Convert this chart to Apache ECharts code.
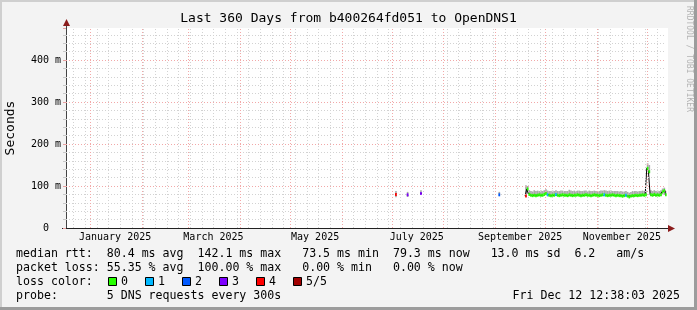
<!DOCTYPE html>
<html><head><meta charset="utf-8">
<script src="https://cdn.jsdelivr.net/npm/echarts@6/dist/echarts.min.js"></script>
<style>html,body{margin:0;padding:0;background:#f3f3f3}#c{width:697px;height:310px}</style>
</head><body><div id="c"></div>
<script>
// ---------- data ----------
const monthNames = ['January','February','March','April','May','June','July','August','September','October','November','December'];
const xLabelDays = ['2025-01-16','2025-03-16','2025-05-16','2025-07-16','2025-09-16','2025-11-16'];
const yTickValues = [0, 100, 200, 300, 400];
const lossColors = ['#26ff00','#00b8ff','#0059ff','#7e00ff','#ff0000','#a10000'];
const lossLabels = ['0','1','2','3','4','5/5'];

// isolated measurements
const sparseDays   = ['2025-07-03','2025-07-10','2025-07-18','2025-09-03'];
const sparseMedian = [80, 79, 82, 79];
const sparseLoss   = [4, 3, 3, 2];
const sparseLo     = [73, 74, 81, 79];
const sparseHi     = [88, 86, 90, 86];

// continuous run, one value per day starting at runStart
const runStart = '2025-09-19';
const runMedian = [
  76, 93, 80, 78, 77, 78, 77, 78, 79, 78, 78, 80,
  82, 79, 78, 77, 78, 78, 80, 78, 77, 78, 79, 78, 78, 77, 79, 78, 77, 78, 78, 79, 78, 77, 78, 78, 79, 78, 78, 77, 78, 79, 78,
  78, 77, 78, 79, 79, 78, 77, 78, 78, 79, 78, 77, 78, 77, 77, 76, 77, 78, 76, 74, 76, 77, 77, 78, 77, 78, 78, 79, 78, 79,
  142, 134, 79, 78, 80, 78, 79, 78, 79, 86, 89, 79
];
const runLoss = [
  4, 0, 0, 0, 0, 0, 0, 0, 0, 0, 0, 0,
  0, 1, 0, 0, 0, 0, 1, 0, 0, 0, 0, 0, 0, 0, 0, 0, 0, 0, 0, 0, 0, 0, 0, 0, 0, 0, 0, 0, 0, 0, 0,
  0, 0, 0, 0, 1, 0, 0, 0, 0, 0, 0, 0, 0, 0, 0, 0, 0, 1, 0, 0, 0, 0, 0, 0, 0, 0, 0, 0, 0, 0,
  0, 0, 0, 0, 0, 0, 0, 0, 0, 0, 0, 0
];
const runHi = [
  102, 100, 90, 88, 87, 90, 88, 89, 88, 89, 88, 90,
  92, 89, 88, 88, 89, 88, 90, 88, 88, 89, 89, 88, 88, 88, 91, 89, 88, 89, 88, 89, 89, 88, 88, 89, 89, 88, 89, 88, 88, 89, 88,
  88, 88, 89, 89, 90, 89, 88, 89, 89, 88, 88, 88, 88, 87, 88, 86, 87, 88, 86, 84, 86, 88, 88, 88, 87, 88, 88, 89, 88, 89,
  154, 150, 90, 88, 90, 88, 89, 88, 90, 94, 96, 88
];
const runLo = [
  74, 88, 77, 76, 75, 76, 75, 76, 76, 76, 76, 77,
  79, 76, 76, 75, 76, 76, 77, 76, 75, 76, 76, 76, 76, 75, 76, 76, 75, 76, 76, 76, 76, 75, 76, 76, 76, 76, 76, 75, 76, 76, 76,
  76, 75, 76, 76, 76, 76, 75, 76, 76, 76, 76, 75, 76, 75, 75, 74, 75, 76, 74, 72, 74, 75, 75, 76, 75, 76, 76, 76, 76, 76,
  138, 130, 76, 76, 77, 76, 76, 76, 76, 80, 84, 77
];

// ---------- build ----------
const DAY = 86400000;
function d(s){ const p = s.split('-').map(Number); return new Date(p[0], p[1]-1, p[2]).getTime(); }
const xMin = new Date(2024, 11, 17, 12, 38, 3).getTime();
const xMax = new Date(2025, 11, 12, 12, 38, 3).getTime();

const items = [];
sparseDays.forEach((s, i) => items.push([d(s), d(s)+DAY, sparseLo[i], sparseHi[i], sparseMedian[i], sparseLoss[i]]));
const r0 = new Date(d(runStart));
runMedian.forEach((m, i) => {
  const dt = new Date(r0.getFullYear(), r0.getMonth(), r0.getDate() + i).getTime();
  const end = Math.min(new Date(r0.getFullYear(), r0.getMonth(), r0.getDate() + i + 1).getTime(), xMax);
  items.push([dt, end, runLo[i], runHi[i], m, runLoss[i]]);
});
items.sort((a,b)=>a[0]-b[0]);

// black median step line, one series per contiguous segment
const segments = [];
let cur = null;
items.forEach((it, i) => {
  if (!cur || it[0] - items[i-1][1] > 1000) { cur = []; segments.push(cur); }
  cur.push([it[0], it[4]]);
  cur.lastEnd = [it[1], it[4]];
});
segments.forEach(s => s.push(s.lastEnd));

// grid lines
const weekLines = [], monthLines = [];
for (let t = new Date(2024, 11, 22); t.getTime() < xMax; t = new Date(t.getFullYear(), t.getMonth(), t.getDate()+7)) weekLines.push(t.getTime());
for (let m = 0; m < 12; m++) monthLines.push(new Date(2025, m, 1).getTime());
const minorY = [], majorY = [100, 200, 300, 400];
for (let v = 20; v < 476; v += 20) if (v % 100 !== 0) minorY.push(v);

const F = '"DejaVu Sans Mono", monospace';
const chart = echarts.init(document.getElementById('c'), null, {renderer: 'canvas'});

function smokeItem(params, api){
  const a = api.coord([api.value(0), api.value(3)]);
  const b = api.coord([api.value(1), api.value(2)]);
  return {type:'rect', shape:{x:a[0], y:a[1], width:Math.max(b[0]-a[0], 1.2), height:Math.max(b[1]-a[1], 1)}, style:{fill:'#a9a9a9'}};
}
function medianItem(params, api){
  const a = api.coord([api.value(0), api.value(4)]);
  const b = api.coord([api.value(1), api.value(4)]);
  return {type:'rect', shape:{x:a[0], y:a[1]-1.5, width:Math.max(b[0]-a[0], 1.5), height:3}, style:{fill:lossColors[api.value(5)]}};
}

const legendGraphics = [];
const rows = [
  ['median rtt:  80.4 ms avg  142.1 ms max   73.5 ms min  79.3 ms now   13.0 ms sd  6.2   am/s', 254],
  ['packet loss: 55.35 % avg  100.00 % max   0.00 % min   0.00 % now', 268],
  ['loss color:', 282],
  ['probe:       5 DNS requests every 300s', 296]
];
rows.forEach(r => legendGraphics.push({type:'text', x:16, y:r[1], style:{text:r[0], font:'11.6px '+F, fill:'#000', align:'left', verticalAlign:'middle'}}));
lossColors.forEach((c, i) => {
  legendGraphics.push({type:'rect', shape:{x:108.5+37*i, y:277.5, width:8, height:8}, style:{fill:c, stroke:'#000', lineWidth:1}});
  legendGraphics.push({type:'text', x:121+37*i, y:282, style:{text:lossLabels[i], font:'11.6px '+F, fill:'#000', align:'left', verticalAlign:'middle'}});
});

const blackSeries = segments.map(s => ({type:'line', data: s, step:'end', showSymbol:false, lineStyle:{color:'#000', width:1}, z:4, silent:true}));

const option = {
  animation: false,
  backgroundColor: '#f3f3f3',
  grid: {left: 66, right: 31, top: 28, bottom: 82, show: false},
  xAxis: {
    type: 'value', min: xMin, max: xMax, scale: true,
    axisLine: {show: true, lineStyle: {color: '#222', width: 1}},
    axisTick: {show: false},
    splitLine: {show: false},
    axisLabel: {
      customValues: xLabelDays.map(d),
      margin: 4, fontFamily: F, fontSize: 10, color: '#000', hideOverlap: false,
      formatter: v => { const t = new Date(v); return monthNames[t.getMonth()] + ' ' + t.getFullYear(); }
    }
  },
  yAxis: {
    type: 'value', min: 0, max: 476.2, interval: 100,
    axisLine: {show: true, lineStyle: {color: '#444', width: 1}},
    axisTick: {show: true, length: 3, lineStyle: {color: '#e8a0a0'}},
    minorTick: {show: true, splitNumber: 5, length: 3, lineStyle: {color: '#c8c8c8'}},
    splitLine: {show: false},
    axisLabel: {margin: 5, fontFamily: F, fontSize: 10, color: '#000', showMaxLabel: false,
      formatter: v => yTickValues.indexOf(v) < 0 ? '' : (v === 0 ? '0  ' : v + ' m')}
  },
  graphic: [
    {type:'rect', z:-5, shape:{x:66, y:28, width:602, height:200}, style:{fill:'#fff'}},
    {type:'rect', shape:{x:0, y:0, width:697, height:2}, style:{fill:'#cfcfcf'}},
    {type:'rect', shape:{x:0, y:0, width:2, height:310}, style:{fill:'#cfcfcf'}},
    {type:'rect', shape:{x:694, y:0, width:3, height:310}, style:{fill:'#9c9c9c'}},
    {type:'rect', shape:{x:0, y:307, width:697, height:3}, style:{fill:'#9c9c9c'}},
    {type:'line', shape:{x1:66.5, y1:22, x2:66.5, y2:28}, style:{stroke:'#444', lineWidth:1}},
    {type:'line', shape:{x1:62, y1:228.5, x2:672, y2:228.5}, style:{stroke:'#222', lineWidth:1}},
    {type:'polygon', shape:{points:[[66.5,19],[63,26],[70,26]]}, style:{fill:'#8b1c1c'}},
    {type:'polygon', shape:{points:[[675,228.5],[668,225],[668,232]]}, style:{fill:'#8b1c1c'}},
    {type:'text', x:348.5, y:19, style:{text:'Last 360 Days from b400264fd051 to OpenDNS1', font:'13px '+F, fill:'#000', align:'center', verticalAlign:'middle'}},
    {type:'text', x:11, y:128, rotation:Math.PI/2, style:{text:'Seconds', font:'13px '+F, fill:'#000', align:'center', verticalAlign:'middle'}},
    {type:'text', x:689, y:59, rotation:-Math.PI/2, style:{text:'RRDTOOL / TOBI OETIKER', font:'8px '+F, fill:'#b4b4b4', align:'center', verticalAlign:'middle'}},
    {type:'text', x:680, y:296, style:{text:'Fri Dec 12 12:38:03 2025', font:'11.6px '+F, fill:'#000', align:'right', verticalAlign:'middle'}}
  ].concat(legendGraphics),
  series: [
    {type:'line', data:[], silent:true, z:1,
      markLine:{silent:true, symbol:['none','none'], label:{show:false}, animation:false,
        lineStyle:{color:'#d2d2d2', type:[1,2], width:1},
        data: weekLines.map(t => ({xAxis:t})).concat(minorY.map(v => ({yAxis:v})))}},
    {type:'line', data:[], silent:true, z:1,
      markLine:{silent:true, symbol:['none','none'], label:{show:false}, animation:false,
        lineStyle:{color:'#f2a8a8', type:[1,2], width:1},
        data: monthLines.map(t => ({xAxis:t})).concat(majorY.map(v => ({yAxis:v})))}},
    {type:'custom', renderItem: smokeItem, data: items, encode:{x:[0,1], y:[2,3,4]}, z:3, silent:true},
    {type:'custom', renderItem: medianItem, data: items, encode:{x:[0,1], y:[2,3,4]}, z:5, silent:true}
  ].concat(blackSeries)
};
chart.setOption(option);
</script>
</body></html>
